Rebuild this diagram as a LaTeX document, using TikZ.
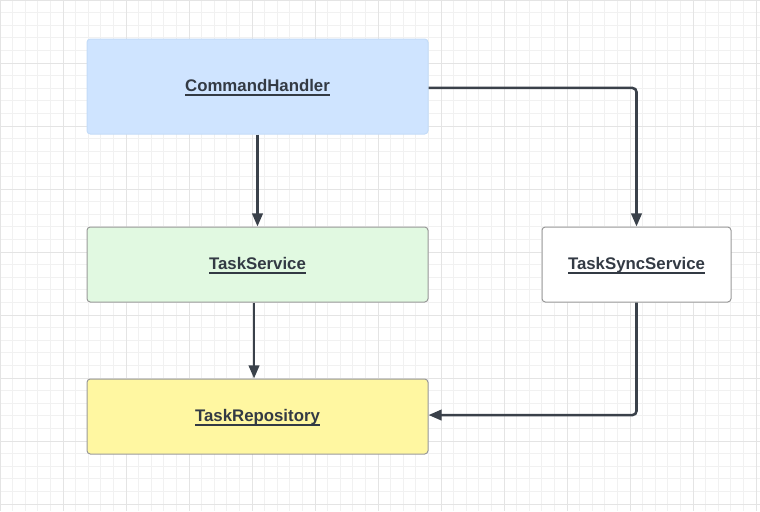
\documentclass[tikz,border=0pt]{standalone}
\usepackage{fontspec}
\setmainfont{Liberation Sans}
\usetikzlibrary{arrows.meta}
\definecolor{gridminor}{HTML}{F1F1F1}
\definecolor{gridmajor}{HTML}{E4E4E4}
\definecolor{ink}{HTML}{3A414A}
\definecolor{txt}{HTML}{333A44}
\definecolor{bluefill}{HTML}{CFE4FF}
\definecolor{blueline}{HTML}{C4DCF8}
\definecolor{greenfill}{HTML}{E1F9E1}
\definecolor{yellowfill}{HTML}{FFF7A1}
\definecolor{boxline}{HTML}{9A9A9A}
\newcommand\ulbox[1]{\setbox0\hbox{#1}\rlap{\smash{\raisebox{-2.7pt}{\rule{\wd0}{1.15pt}}}}\box0}
\begin{document}
\begin{tikzpicture}[x=0.75pt,y=-0.75pt,
  box/.style={rounded corners=2.5pt, draw=boxline, line width=0.75pt, inner sep=0pt,
    text height=9pt, text depth=0.9pt,
    font=\fontsize{12.6}{15}\selectfont\bfseries, text=txt},
  conn/.style={draw=ink, line width=1.9pt, rounded corners=3pt,
    -{Triangle[length=9.8pt,width=7.8pt]}}]
\useasboundingbox[fill=white] (0,0) rectangle (760,511);
\foreach \i in {0,...,60} \draw[gridminor, line width=0.75pt] (\i*12.6,0) -- (\i*12.6,511);
\foreach \j in {0,...,40} \draw[gridminor, line width=0.75pt] (0,\j*12.6) -- (760,\j*12.6);
\foreach \i in {0,...,12} \draw[gridmajor, line width=0.75pt] (\i*63,0) -- (\i*63,511);
\foreach \j in {0,...,8} \draw[gridmajor, line width=0.75pt] (0,\j*63) -- (760,\j*63);

\node[box, fill=bluefill, draw=blueline, minimum width=341*0.75pt, minimum height=95*0.75pt] (ch) at (257.5,86.5) {\ulbox{CommandHandler}};
\node[box, fill=greenfill, minimum width=341*0.75pt, minimum height=75*0.75pt] (ts) at (257.5,264.5) {\ulbox{TaskService}};
\node[box, fill=white, minimum width=189*0.75pt, minimum height=75*0.75pt] (tss) at (636.5,264.5) {\ulbox{TaskSyncService}};
\node[box, fill=yellowfill, minimum width=341*0.75pt, minimum height=75*0.75pt] (tr) at (257.5,416.5) {\ulbox{TaskRepository}};

\draw[conn] (ch.south) -- (ts.north);
\draw[conn] ([xshift=-2.6pt]ts.south) -- ([xshift=-2.6pt]tr.north);
\draw[conn] ([yshift=-1.1pt]ch.east) -| (tss.north);
\draw[conn] (tss.south) |- ([yshift=1.1pt]tr.east);
\end{tikzpicture}
\end{document}
